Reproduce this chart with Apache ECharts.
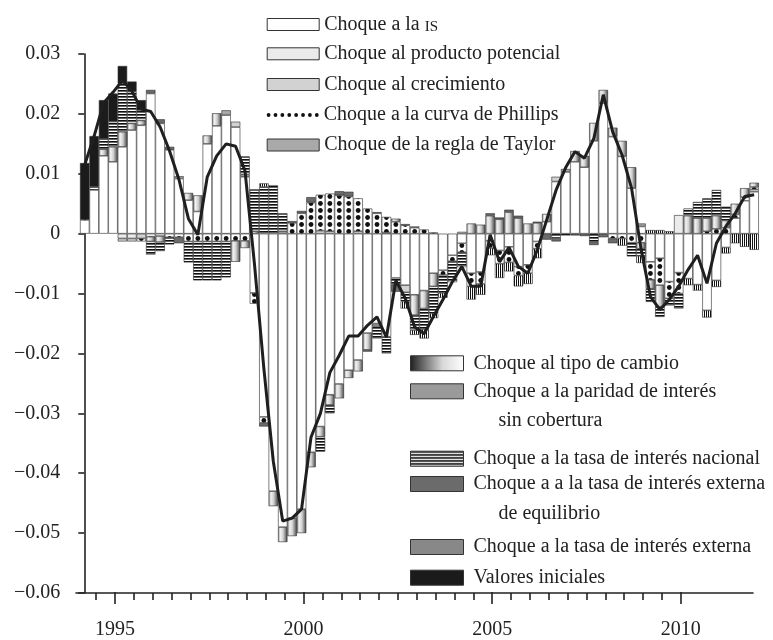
<!DOCTYPE html>
<html><head><meta charset="utf-8">
<script src="https://cdn.jsdelivr.net/npm/echarts@6/dist/echarts.min.js"></script>
<style>html,body{margin:0;padding:0;background:#fff}#c{width:773px;height:640px}</style>
</head><body><div id="c"></div>
<script>
// ---------- DATA ----------
const startYear = 1994, startQuarter = 2, nQuarters = 72;
const quarters = [];
for (let i = 0; i < nQuarters; i++) { const q = startQuarter - 1 + i; quarters.push((startYear + Math.floor(q / 4)) + 'T' + (q % 4 + 1)); }
const yearLabels = [1995, 2000, 2005, 2010];

const shockIS = [
 0.0023, 0.0073, 0.013, 0.012, 0.0145, 0.0173, 0.0181, 0.0234,
 0.0184, 0.014, 0.0092, 0.0056, 0.0037, 0.015, 0.018, 0.0198,
 0.0178, 0.0095, -0.0099, -0.0306, -0.043, -0.049, -0.0475, -0.046,
 -0.0365, -0.0322, -0.0269, -0.0251, -0.0228, -0.0211, -0.0166, -0.015,
 -0.0172, -0.0074, -0.0086, -0.0102, -0.0095, -0.0066, -0.0061, -0.0036,
 -0.0016, -0.0066, -0.0064, -0.0012, -0.0028, -0.0022, -0.0055, -0.0052,
 -0.0013, 0.002, 0.0087, 0.0103, 0.012, 0.0111, 0.0155, 0.0218,
 0.0162, 0.0129, 0.0076, 0.0012, -0.0047, -0.0041, -0.008, -0.0065,
 -0.0075, -0.0085, -0.0128, -0.0078, -0.0023, 0.0026, 0.0055, 0.007];
const shockPotential = [
 0,0,0,0,-0.0008,-0.0008,0,0, 0,0,0,0,0,0,0,0, 0,0,0,0,0,0,0,0, 0,0,0,0,0,0,0,0,
 0,0,0,0,0,0,0,0, 0,0,0,0,0,0,0,0, 0,0,0,0,0,0,0,0, 0,0,0,0,0,0,0,0.0031, 0,0,0,0,0,0,0,0];
const shockGrowth = [
 0,0,0,0,-0.0005,-0.0005,-0.0008,0, 0,0,0,0,0,0,0,0, 0.0009,0,0,0,0,0,0,0,
 0,0.0005,0.0004,0,0,0.0004,0,0, 0.0002,0,-0.0012,0,0,0,0,0, 0.0003,0,0,0,0,0,0,0,
 0,0,0.0008,0,0,0,0,0, 0,0,0,0,0,0,0,0, 0,0,0,0,0,0,0,0.0004];
const shockPhillips = [
 0,0,0,0,0,0,-0.0005,-0.0005,
 -0.0004,-0.0006,-0.0006,-0.0013,-0.0013,-0.0013,-0.0013,-0.0013,
 -0.0012,-0.0012,-0.0018,-0.001,0,0,0.0018,0.0034,
 0.0052,0.006,0.0063,0.0064,0.0062,0.0055,0.0042,0.0034,
 0.0026,0.002,0.0014,0.001,0.0007,0.0002,-0.0008,-0.001,
 -0.0015,-0.0022,-0.002,-0.0012,-0.0022,-0.0026,-0.0015,-0.0014,
 -0.0012,0,0,0,0,0,0,0,
 -0.0008,-0.0008,-0.0015,-0.0015,-0.003,-0.0045,-0.0028,-0.0035,
 0,0,0.0004,0.0008,0.001,0.0006,0.0006,0.0004];
const shockTaylor = [
 0,0,0,0,0,0,0,0, 0,0,0.0004,0,0,0,0,0.0008, 0,0.0004,0,0,0,0.0004,0,0,
 0,0,0,0,0,0,0,0.0002, 0,0,0.0002,0.0002,0,0,0,0, 0,0,0,0,0,0,0,0,
 0,0,0,0.0005,0,0,0,0, 0,0,0,0.0005,0,0,0,0, 0,0,0,0,0,0,0,0];
const shockExchange = [
 0,0,0.0011,0.0025,0.0025,0.0011,0.0008,-0.0008,
 -0.001,0,0,0.0012,0.0027,0.0014,0.0021,0,
 -0.0035,-0.0012,0.0004,0,-0.0025,-0.0025,-0.003,-0.004,
 -0.0025,-0.0017,-0.0017,-0.0024,-0.0013,-0.0019,-0.0028,0,
 0,0.0005,0,-0.0034,-0.003,-0.0022,0,0,
 0,0.0017,0.0015,0.003,0.0024,0.0036,0.0026,0.0017,
 0.0018,0.0013,0,0,0.0018,0.0019,0.003,0.0022,
 0.0015,0.0026,0.0035,-0.001,-0.0015,-0.0036,0,0,
 0.003,0.0026,0.0022,0.0022,0.0012,0.0018,0.0015,0.0007];
const shockUIP = [
 0,0,0,0,0,0,0,0, 0,0,0,0,0,0,0,0, 0,0,0,0,0,0,0,0, 0,0,0,0,0,0,0,-0.0005,
 0,0,0,0,0,0,0,0, 0,0,0,0,0,0,0,0, 0,0,0,0,0,0,0,0, 0,0,0,0,0,0,0,0, 0,0,0,0,0,0,0,0];
const shockDomesticRate = [
 0,0.0005,0.0017,0.0042,0.0081,0.0053,0.0017,-0.0022,
 -0.0015,-0.0012,0,-0.0035,-0.0065,-0.0065,-0.0065,-0.006,
 0,0.003,0.007,0.0078,0.0081,0.003,0,0,
 0,-0.0025,-0.0014,0,0,0,0,-0.002,
 -0.0028,-0.0011,-0.0015,-0.0025,-0.0035,-0.0045,-0.003,-0.0035,
 -0.0025,0,0,0,0,0,0,0,
 0,0,-0.0007,-0.0003,0,0,-0.0014,0,
 0,0,-0.0023,-0.0012,-0.0022,-0.0017,-0.0012,-0.0025,
 0.0012,0.0027,0.0033,0.0043,0.0023,0,0,0];
const shockForeignEq = [
 0,0,0,0,0,0,0,0.0006, 0.0007,0.0005,-0.001,0,0,0,0,0,
 0,0,0,-0.0006,0,0,0.0003,0.0004, 0.0009,0,0,0.0007,0.0008,0,-0.0003,0,
 0,-0.0012,0,0,0,0,0,0, 0,0,0,0.0004,0.0003,0.0004,0.0004,0,
 0.0002,-0.001,-0.0006,0,-0.0003,-0.0004,-0.0005,-0.0006,
 -0.0008,0,0,0,0,0,0,0, 0,0,0,0,0,0,0,0];
const shockForeignRate = [
 0,0,0,0,0,0,0,0, 0,0,0,0,0,0,0,0, 0,0,0,0.0006,0,0,0,0, 0,0,0,0,0,0,0,0,
 0,0,-0.0012,-0.0008,-0.0015,-0.0008,-0.0008,0,
 0,-0.0022,-0.0018,-0.0012,-0.0024,-0.0015,-0.0018,-0.0018,
 -0.0016,0,0,0,0,0,0,0,
 0,-0.0012,0,-0.0012,0.0006,0.0006,0.0004,0,
 -0.0011,-0.001,-0.0012,-0.0011,-0.001,-0.0016,-0.0022,-0.0027];
const initialValues = [
 0.0095,0.0085,0.0065,0.0047,0.0029,0.0017,0.0017,0,
 0,0,0,0,0,0,0,0, 0,0,0,0,0,0,0,0, 0,0,0,0,0,0,0,0, 0,0,0,0,0,0,0,0,
 0,0,0,0,0,0,0,0, 0,0,0,0,0,0,0,0, 0,0,0,0,0,0,0,0, 0,0,0,0,0,0,0,0];
const totalLine = [
 0.0115,0.0163,0.0218,0.0236,0.0256,0.0238,0.0208,0.0204,
 0.0178,0.0138,0.009,0.0025,-0.0002,0.0095,0.013,0.015,
 0.0146,0.0105,-0.005,-0.0225,-0.038,-0.048,-0.0475,-0.046,
 -0.034,-0.03,-0.0232,-0.0203,-0.0171,-0.0171,-0.0153,-0.0139,
 -0.0173,-0.0078,-0.0108,-0.0156,-0.0167,-0.0138,-0.011,-0.008,
 -0.0055,-0.0088,-0.0088,-0.0002,-0.0047,-0.0023,-0.0055,-0.0066,
 -0.0027,0.0023,0.0073,0.011,0.0137,0.0126,0.0159,0.0232,
 0.017,0.0131,0.0076,-0.0025,-0.0105,-0.0127,-0.011,-0.0088,
 -0.006,-0.0036,-0.0083,-0.0016,0.0012,0.0034,0.0062,0.0065];

// ---------- STYLES ----------
const FONT = '"Liberation Serif", "DejaVu Serif", serif';
const INK = '#222';
function makeCanvas(w, h, draw) {
  const c = document.createElement('canvas'); c.width = w; c.height = h;
  const g = c.getContext('2d'); g.fillStyle = '#fff'; g.fillRect(0, 0, w, h); draw(g); return c;
}
const hStripes = makeCanvas(4, 3, g => { g.fillStyle = '#111'; g.fillRect(0, 0, 4, 1); g.fillStyle = '#666'; g.fillRect(0, 1, 4, 1); });
const vStripes = makeCanvas(2, 4, g => { g.fillStyle = '#111'; g.fillRect(0, 0, 1, 4); });
const dots = makeCanvas(66, 7, g => {
  g.fillStyle = '#111';
  const step = 66 / 7;
  for (let k = -1; k <= 7; k++) {
    const cx = 9.286 + k * step;
    [0.5, 7.5].forEach(cy => { g.beginPath(); g.arc(cx, cy, 2.4, 0, Math.PI * 2); g.fill(); });
  }
});
const pat = c => ({ image: c, repeat: 'repeat' });
const barGradient = { type: 'linear', x: 0, y: 0, x2: 1, y2: 0, colorStops: [
  { offset: 0, color: '#8c8c8c' }, { offset: 0.25, color: '#f2f2f2' }, { offset: 0.55, color: '#cfcfcf' }, { offset: 1, color: '#454545' }] };
const legendGradient = { type: 'linear', x: 0, y: 0, x2: 1, y2: 0, colorStops: [
  { offset: 0, color: '#1e1e1e' }, { offset: 0.6, color: '#d8d8d8' }, { offset: 1, color: '#ffffff' }] };

const barDefs = [
  { name: 'Choque a la IS', data: shockIS, color: '#ffffff' },
  { name: 'Choque al producto potencial', data: shockPotential, color: '#ebebeb' },
  { name: 'Choque al crecimiento', data: shockGrowth, color: '#d2d2d2' },
  { name: 'Choque a la curva de Phillips', data: shockPhillips, color: pat(dots) },
  { name: 'Choque de la regla de Taylor', data: shockTaylor, color: '#a9a9a9' },
  { name: 'Choque al tipo de cambio', data: shockExchange, color: barGradient },
  { name: 'Choque a la paridad de interés sin cobertura', data: shockUIP, color: '#9a9a9a' },
  { name: 'Choque a la tasa de interés nacional', data: shockDomesticRate, color: pat(hStripes) },
  { name: 'Choque a a la tasa de interés externa de equilibrio', data: shockForeignEq, color: '#6b6b6b' },
  { name: 'Choque a la tasa de interés externa', data: shockForeignRate, color: pat(vStripes) },
  { name: 'Valores iniciales', data: initialValues, color: '#1b1b1b' }
];

const series = barDefs.map(d => ({
  type: 'bar', name: d.name, stack: 'total', xAxisIndex: 0, yAxisIndex: 0,
  data: d.data.map(v => v === 0 ? '-' : v),
  barCategoryGap: '0%', silent: true, emphasis: { disabled: true },
  itemStyle: { color: d.color, borderColor: '#2b2b2b', borderWidth: 0.6 }
}));
series.push({
  type: 'line', name: 'Total', xAxisIndex: 0, yAxisIndex: 0, data: totalLine,
  symbol: 'none', silent: true, z: 10,
  lineStyle: { color: '#1f1f1f', width: 3 }
});

// ---------- LEGENDS ----------
let dotPath = 'path://';
for (let k = 0; k < 8; k++) {
  const cx = 2 + k * 48 / 7, r = 1.9, cy = 2;
  dotPath += `M${(cx - r).toFixed(2)},${cy}A${r},${r},0,1,0,${(cx + r).toFixed(2)},${cy}A${r},${r},0,1,0,${(cx - r).toFixed(2)},${cy}Z`;
}
const baseText = { fontFamily: FONT, fontSize: 20, color: INK, lineHeight: 24 };
function legend(idx, left, centerY, w, h, opts) {
  opts = opts || {};
  const twoLine = !!opts.second;
  const lh = twoLine ? 29.5 : 24;
  const totalH = twoLine ? lh * 3 : lh;
  const item = { name: barDefs[idx].name, icon: opts.icon || 'rect' };
  if (opts.itemStyle) item.itemStyle = opts.itemStyle;
  const padLeft = opts.padLeft || 0;
  const l = {
    show: true, left: left, top: centerY - Math.max(totalH, h) / 2, padding: 0,
    orient: 'vertical', itemWidth: w, itemHeight: h, itemGap: 0, selectedMode: false,
    icon: 'rect',
    itemStyle: opts.itemStyle || { borderColor: '#333', borderWidth: 1 },
    data: [item],
    textStyle: Object.assign({}, baseText, { lineHeight: lh, padding: [0, 0, 0, padLeft] })
  };
  if (twoLine) {
    const first = opts.first, second = opts.second;
    // empty first line keeps the first text line level with the icon
    l.formatter = () => '\n' + first + '\n     ' + second;
  }
  if (opts.rich) { l.formatter = opts.formatter; l.textStyle.rich = opts.rich; }
  return l;
}
const legends = [
  legend(0, 266.7, 24.5, 52, 12, {
    formatter: () => '{a|Choque a la }{b|IS}',
    rich: { a: { fontFamily: FONT, fontSize: 20, color: INK, lineHeight: 24 },
            b: { fontFamily: FONT, fontSize: 15, color: INK, lineHeight: 24, padding: [5, 0, 0, 0] } } }),
  legend(1, 266.7, 53.8, 52, 12),
  legend(2, 266.7, 84.5, 52, 12),
  legend(3, 266.7, 115, 52, 4, { icon: dotPath, itemStyle: { color: '#111', borderWidth: 0 } }),
  legend(4, 266.7, 145, 52, 12),
  legend(5, 410, 363.3, 53, 15, { padLeft: 5, itemStyle: { color: legendGradient, borderColor: '#333', borderWidth: 1 } }),
  legend(6, 410, 391.3, 53, 15, { padLeft: 5, first: 'Choque a la paridad de interés', second: 'sin cobertura' }),
  legend(7, 410, 458.7, 53, 15, { padLeft: 5 }),
  legend(8, 410, 484, 53, 15, { padLeft: 5, first: 'Choque a a la tasa de interés externa', second: 'de equilibrio' }),
  legend(9, 410, 547, 53, 15, { padLeft: 5 }),
  legend(10, 410, 577.7, 53, 15, { padLeft: 5 })
];

// ---------- AXES ----------
const pxPerYear = 4 * 678.857 / 72;
const axMin = 1995 - 39 / pxPerYear, axMax = axMin + 677 / pxPerYear;
const minorTicks = [];
for (let y = 1994.5; y <= 2009.5 + 1e-9; y += 0.5) if (!yearLabels.includes(y)) minorTicks.push(y);
const axisCol = { color: INK, width: 1.6 };
const yFmt = v => Math.abs(v) < 1e-9 ? '0' : (v < 0 ? '\u2212' : '') + Math.abs(v).toFixed(2);

const option = {
  animation: false,
  backgroundColor: '#fff',
  grid: [
    { left: 80, top: 54, width: 678.857, height: 539 },
    { left: 76, top: 54, width: 677, height: 539 },
    { left: 76, top: 54, width: 677, height: 539 }
  ],
  xAxis: [
    { gridIndex: 0, type: 'category', data: quarters, show: false },
    { gridIndex: 1, type: 'value', min: axMin, max: axMax, position: 'bottom',
      axisLine: { show: true, onZero: false, lineStyle: axisCol },
      axisTick: { show: true, length: 7, lineStyle: axisCol, customValues: minorTicks },
      axisLabel: { show: false }, splitLine: { show: false } },
    { gridIndex: 2, type: 'value', min: axMin, max: axMax, position: 'bottom',
      axisLine: { show: false, onZero: false },
      axisTick: { show: true, length: 12, lineStyle: axisCol, customValues: yearLabels },
      axisLabel: { show: true, customValues: yearLabels, formatter: v => String(Math.round(v)),
        margin: 28, fontFamily: FONT, fontSize: 20, color: INK },
      splitLine: { show: false } }
  ],
  yAxis: [
    { gridIndex: 0, type: 'value', min: -0.06, max: 0.03, interval: 0.01, offset: -4.3,
      axisLine: { show: true, lineStyle: axisCol },
      axisTick: { show: true, length: 6, lineStyle: axisCol },
      axisLabel: { margin: 24, formatter: yFmt, fontFamily: FONT, fontSize: 20, color: INK },
      splitLine: { show: false } },
    { gridIndex: 1, type: 'value', show: false },
    { gridIndex: 2, type: 'value', show: false }
  ],
  legend: legends,
  series: series
};
const chart = echarts.init(document.getElementById('c'), null, { renderer: 'canvas' });
chart.setOption(option);
</script>
</body></html>
